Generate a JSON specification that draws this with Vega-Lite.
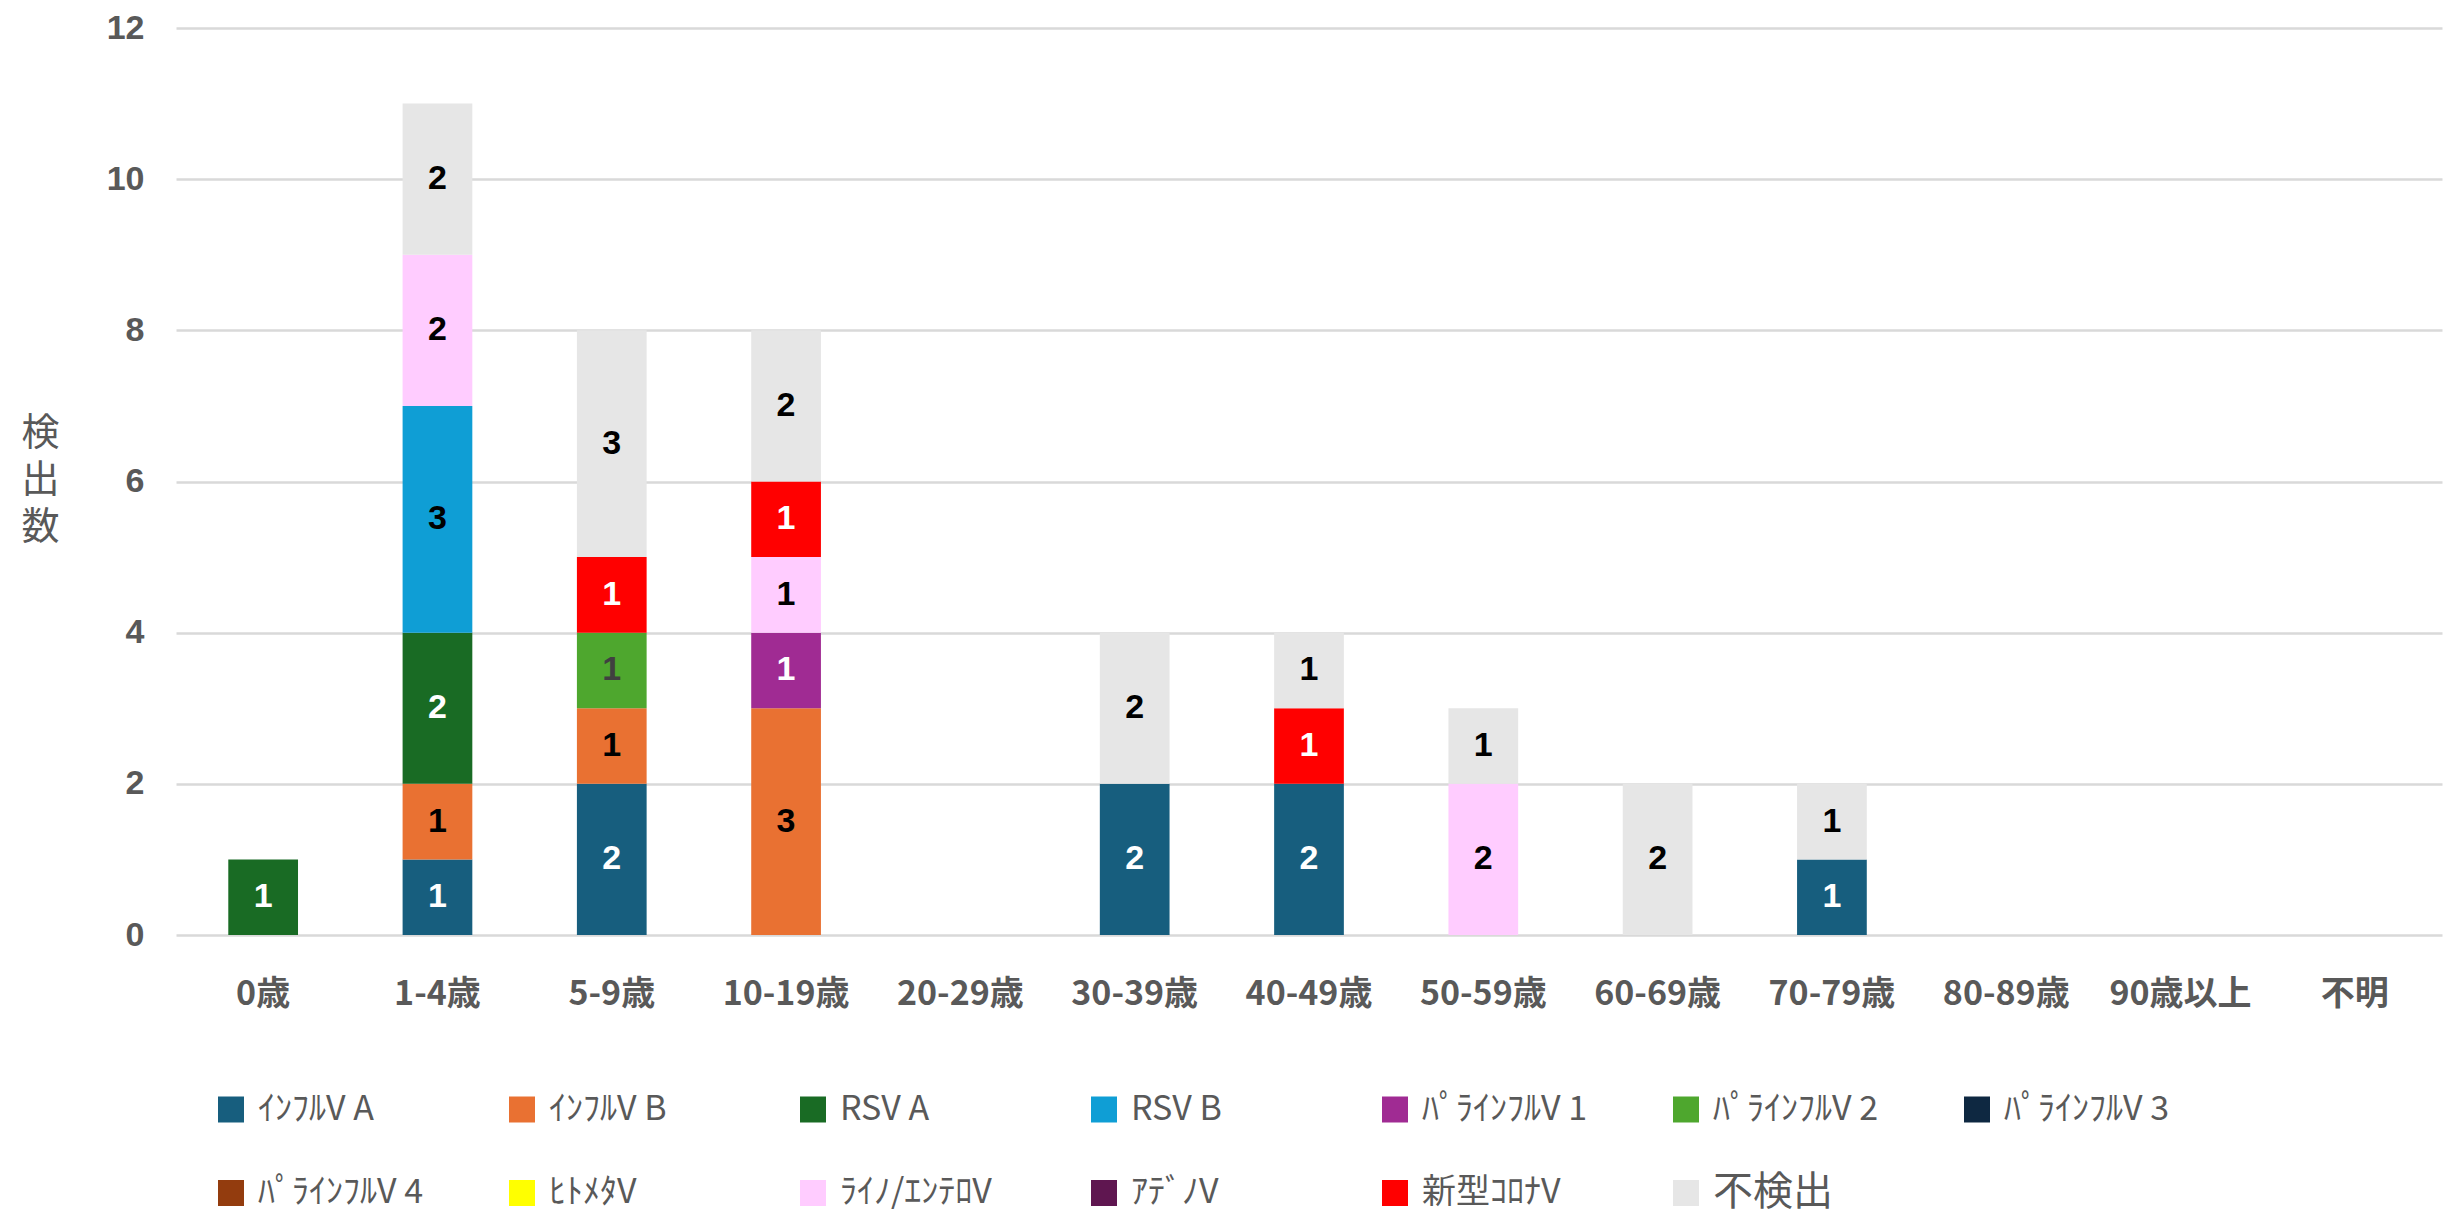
{
  "$schema": "https://vega.github.io/schema/vega-lite/v6.json",
  "width": 2266,
  "height": 907,
  "autosize": {"type": "none"},
  "padding": {"left": 176, "top": 28, "right": 4, "bottom": 283},
  "background": "white",
  "config": {"view": {"stroke": null}},
  "data": {
    "values": [
      {"age": "0歳", "virus": "RSV A", "n": 1},
      {"age": "1-4歳", "virus": "ｲﾝﾌﾙV A", "n": 1},
      {"age": "1-4歳", "virus": "ｲﾝﾌﾙV B", "n": 1},
      {"age": "1-4歳", "virus": "RSV A", "n": 2},
      {"age": "1-4歳", "virus": "RSV B", "n": 3},
      {"age": "1-4歳", "virus": "ﾗｲﾉ/ｴﾝﾃﾛV", "n": 2},
      {"age": "1-4歳", "virus": "不検出", "n": 2},
      {"age": "5-9歳", "virus": "ｲﾝﾌﾙV A", "n": 2},
      {"age": "5-9歳", "virus": "ｲﾝﾌﾙV B", "n": 1},
      {"age": "5-9歳", "virus": "ﾊﾟﾗｲﾝﾌﾙV 2", "n": 1},
      {"age": "5-9歳", "virus": "新型ｺﾛﾅV", "n": 1},
      {"age": "5-9歳", "virus": "不検出", "n": 3},
      {"age": "10-19歳", "virus": "ｲﾝﾌﾙV B", "n": 3},
      {"age": "10-19歳", "virus": "ﾊﾟﾗｲﾝﾌﾙV 1", "n": 1},
      {"age": "10-19歳", "virus": "ﾗｲﾉ/ｴﾝﾃﾛV", "n": 1},
      {"age": "10-19歳", "virus": "新型ｺﾛﾅV", "n": 1},
      {"age": "10-19歳", "virus": "不検出", "n": 2},
      {"age": "30-39歳", "virus": "ｲﾝﾌﾙV A", "n": 2},
      {"age": "30-39歳", "virus": "不検出", "n": 2},
      {"age": "40-49歳", "virus": "ｲﾝﾌﾙV A", "n": 2},
      {"age": "40-49歳", "virus": "新型ｺﾛﾅV", "n": 1},
      {"age": "40-49歳", "virus": "不検出", "n": 1},
      {"age": "50-59歳", "virus": "ﾗｲﾉ/ｴﾝﾃﾛV", "n": 2},
      {"age": "50-59歳", "virus": "不検出", "n": 1},
      {"age": "60-69歳", "virus": "不検出", "n": 2},
      {"age": "70-79歳", "virus": "ｲﾝﾌﾙV A", "n": 1},
      {"age": "70-79歳", "virus": "不検出", "n": 1}
    ]
  },
  "transform": [
    {"calculate": "indexof(['ｲﾝﾌﾙV A','ｲﾝﾌﾙV B','RSV A','RSV B','ﾊﾟﾗｲﾝﾌﾙV 1','ﾊﾟﾗｲﾝﾌﾙV 2','ﾊﾟﾗｲﾝﾌﾙV 3','ﾊﾟﾗｲﾝﾌﾙV 4','ﾋﾄﾒﾀV','ﾗｲﾉ/ｴﾝﾃﾛV','ｱﾃﾞﾉV','新型ｺﾛﾅV','不検出'], datum.virus)", "as": "ord"},
    {"stack": "n", "groupby": ["age"], "sort": [{"field": "ord", "order": "ascending"}], "as": ["y0", "y1"]},
    {"calculate": "(datum.y0 + datum.y1) / 2", "as": "ymid"}
  ],
  "encoding": {
    "x": {
      "field": "age",
      "type": "nominal",
      "scale": {
        "domain": ["0歳", "1-4歳", "5-9歳", "10-19歳", "20-29歳", "30-39歳", "40-49歳", "50-59歳", "60-69歳", "70-79歳", "80-89歳", "90歳以上", "不明"],
        "paddingInner": 0.6,
        "paddingOuter": 0.3
      },
      "axis": {
        "title": null,
        "labelAngle": 0,
        "labelFont": "Noto Sans CJK JP",
        "labelFontSize": 34,
        "labelFontWeight": "bold",
        "labelColor": "#595959",
        "labelPadding": 42,
        "labelOverlap": false,
        "ticks": false,
        "domain": false,
        "grid": false
      }
    }
  },
  "layer": [
    {
      "mark": {"type": "bar"},
      "encoding": {
        "y": {
          "field": "y0",
          "type": "quantitative",
          "scale": {"domain": [0, 12], "nice": false},
          "axis": {
            "title": ["検", "出", "数"],
            "titleAngle": 0,
            "titleFont": "Noto Sans CJK JP",
            "titleFontSize": 38,
            "titleFontWeight": "normal",
            "titleColor": "#595959",
            "titleX": -136,
            "titleY": 386,
            "titleAlign": "center",
            "titleBaseline": "top",
            "titleLineHeight": 47,
            "values": [0, 2, 4, 6, 8, 10, 12],
            "format": "d",
            "labelFont": "Liberation Sans",
            "labelFontSize": 34,
            "labelFontWeight": "bold",
            "labelColor": "#595959",
            "labelPadding": 32,
            "ticks": false,
            "domain": false,
            "grid": true,
            "gridColor": "#D9D9D9",
            "gridWidth": 2.5
          }
        },
        "y2": {"field": "y1"},
        "color": {
          "field": "virus",
          "type": "nominal",
          "scale": {
            "domain": ["ｲﾝﾌﾙV A", "ｲﾝﾌﾙV B", "RSV A", "RSV B", "ﾊﾟﾗｲﾝﾌﾙV 1", "ﾊﾟﾗｲﾝﾌﾙV 2", "ﾊﾟﾗｲﾝﾌﾙV 3", "ﾊﾟﾗｲﾝﾌﾙV 4", "ﾋﾄﾒﾀV", "ﾗｲﾉ/ｴﾝﾃﾛV", "ｱﾃﾞﾉV", "新型ｺﾛﾅV", "不検出"],
            "range": ["#175E7E", "#E97132", "#196B24", "#0F9ED5", "#A02B93", "#4EA72E", "#0E2841", "#933C0E", "#FFFF00", "#FFCCFF", "#5F1650", "#FF0000", "#E6E6E6"]
          },
          "legend": {
            "title": null,
            "orient": "none",
            "legendX": 38,
            "legendY": 1063,
            "direction": "horizontal",
            "columns": 7,
            "gridAlign": "all",
            "symbolType": "square",
            "symbolSize": 676,
            "symbolStrokeWidth": 0,
            "symbolOpacity": 1,
            "labelFont": "Noto Sans CJK JP",
            "labelFontSize": 34,
            "labelColor": "#595959",
            "labelOffset": 10,
            "labelLimit": 400,
            "columnPadding": 81,
            "rowPadding": 45,
            "padding": 0,
            "encode": {
              "labels": {
                "update": {
                  "fontSize": {"signal": "datum.label === '不検出' ? 40 : 34"}
                }
              }
            }
          }
        }
      }
    },
    {
      "mark": {"type": "text", "font": "Liberation Sans", "fontSize": 34, "fontWeight": "bold", "baseline": "middle", "align": "center"},
      "encoding": {
        "y": {"field": "ymid", "type": "quantitative"},
        "text": {"field": "n", "type": "quantitative"},
        "color": {
          "condition": [
            {"test": "indexof(['ｲﾝﾌﾙV A','RSV A','ﾊﾟﾗｲﾝﾌﾙV 1','新型ｺﾛﾅV'], datum.virus) >= 0", "value": "#FFFFFF"},
            {"test": "datum.virus === 'ﾊﾟﾗｲﾝﾌﾙV 2'", "value": "#404040"}
          ],
          "value": "#000000"
        }
      }
    }
  ]
}
